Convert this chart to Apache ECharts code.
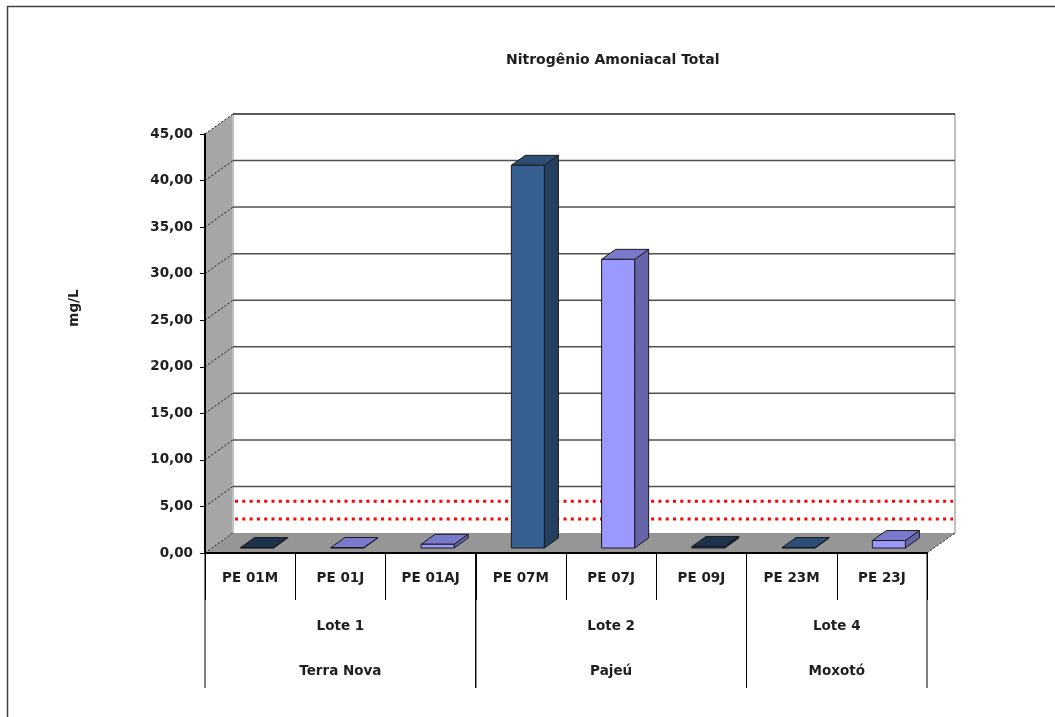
<!DOCTYPE html>
<html>
<head>
<meta charset="utf-8">
<script src="https://cdn.jsdelivr.net/npm/echarts@6/dist/echarts.min.js"></script>
<style>
  html, body { margin: 0; padding: 0; background: #ffffff; }
  #chart { width: 1055px; height: 717px; }
</style>
</head>
<body>
<div id="chart"></div>
<script>
// Sampling points and total ammoniacal nitrogen (mg/L)
const categories = ['PE 01M', 'PE 01J', 'PE 01AJ', 'PE 07M', 'PE 07J', 'PE 09J', 'PE 23M', 'PE 23J'];
const values = [0.05, 0.05, 0.4, 41.1, 31.0, 0.15, 0.05, 0.8];
const barColors = ['#243F60', '#9999FF', '#9999FF', '#376092', '#9999FF', '#243F60', '#376092', '#9999FF'];

// Grouping rows under the sample names
const lotes = ['Lote 1', 'Lote 2', 'Lote 4'];
const regions = ['Terra Nova', 'Pajeú', 'Moxotó'];
const groupStart = [0, 3, 6];
const groupEnd = [2, 5, 7];

// Value axis ticks and reference limits drawn on the back wall
const yTicks = [0, 5, 10, 15, 20, 25, 30, 35, 40, 45];
const limits = [3.4, 1.5];

const Y_MAX = 45;
const DX = 28, DY = -20;          // depth of the box (back wall offset)
const FONT_FAMILY = '"DejaVu Sans", sans-serif';
const FONT_SIZE = 13.5;
const FONT = 'bold ' + FONT_SIZE + 'px ' + FONT_FAMILY;
const TEXT_COLOR = '#1e1e1e';

function shade(hex, k) {
  const n = parseInt(hex.slice(1), 16);
  const r = Math.round(((n >> 16) & 255) * k);
  const g = Math.round(((n >> 8) & 255) * k);
  const b = Math.round((n & 255) * k);
  return 'rgb(' + r + ',' + g + ',' + b + ')';
}

function boxEdges(api) {
  const bw = api.size([1, 0])[0];
  const x0 = api.coord([0, 0])[0] - bw / 2;
  const x1 = api.coord([categories.length - 1, 0])[0] + bw / 2;
  return { bw, x0, x1 };
}

// Side wall, floor, back-wall grid and reference lines
function renderWalls(params, api) {
  const { x0, x1 } = boxEdges(api);
  const y = v => api.coord([0, v])[1];
  const yTop = y(Y_MAX), yBase = y(0);
  const children = [];
  children.push({
    type: 'polygon',
    shape: { points: [[x0, yTop], [x0 + DX, yTop + DY], [x0 + DX, yBase + DY], [x0, yBase]] },
    style: { fill: '#a6a6a6' }
  });
  children.push({
    type: 'polygon',
    shape: { points: [[x0, yBase], [x0 + DX, yBase + DY], [x1 + DX, yBase + DY], [x1, yBase]] },
    style: { fill: '#969696' }
  });
  // back wall vertical edges
  [x0 + DX, x1 + DX].forEach(x => {
    children.push({
      type: 'line',
      shape: { x1: x, y1: yTop + DY, x2: x, y2: yBase + DY },
      style: { stroke: '#c0c0c0', lineWidth: 2 }
    });
  });
  // gridlines on the back wall + diagonals across the side wall
  yTicks.forEach(v => {
    const yy = y(v);
    if (v > 0) {
      children.push({
        type: 'line',
        shape: { x1: x0 + DX, y1: yy + DY, x2: x1 + DX, y2: yy + DY },
        style: { stroke: v === Y_MAX ? '#222222' : '#505050', lineWidth: 1.5 }
      });
    }
    children.push({
      type: 'line',
      shape: { x1: x0, y1: yy, x2: x0 + DX, y2: yy + DY },
      style: { stroke: '#111111', lineWidth: 1, lineDash: [2, 2] }
    });
  });
  // right edge of the floor
  children.push({
    type: 'line',
    shape: { x1: x1, y1: yBase, x2: x1 + DX, y2: yBase + DY },
    style: { stroke: '#111111', lineWidth: 1, lineDash: [2, 2] }
  });
  // reference limits (red dotted)
  limits.forEach(v => {
    const yy = y(v) + DY;
    children.push({
      type: 'line',
      shape: { x1: x0 + DX + 2, y1: yy, x2: x1 + DX - 2, y2: yy },
      style: { stroke: '#ff0000', lineWidth: 3, lineDash: [3, 4.3] }
    });
  });
  return { type: 'group', children };
}

// Prism bars standing in the middle of the box depth
function renderBar(params, api) {
  const i = api.value(0);
  const v = api.value(1);
  const bw = api.size([1, 0])[0];
  const w = bw * 0.366;
  const top = api.coord([i, v]);
  const base = api.coord([i, 0]);
  const fx = DX * 0.25, fy = DY * 0.25;      // front face offset
  const ddx = DX * 0.5, ddy = DY * 0.5;      // bar depth
  const L = top[0] - w / 2 + fx, R = L + w;
  const T = top[1] + fy, B = base[1] + fy;
  const c = barColors[params.dataIndex];
  const edge = { stroke: '#1a1a1a', lineWidth: 1, lineJoin: 'round' };
  return {
    type: 'group',
    children: [
      { type: 'polygon', shape: { points: [[R, T], [R + ddx, T + ddy], [R + ddx, B + ddy], [R, B]] },
        style: Object.assign({ fill: shade(c, 0.66) }, edge) },
      { type: 'polygon', shape: { points: [[L, T], [L + ddx, T + ddy], [R + ddx, T + ddy], [R, T]] },
        style: Object.assign({ fill: shade(c, 0.8) }, edge) },
      { type: 'rect', shape: { x: L, y: T, width: w, height: Math.max(B - T, 0.5) },
        style: Object.assign({ fill: c }, edge) }
    ]
  };
}

// Lote / region rows beneath the sample names
function renderGroup(params, api) {
  const g = params.dataIndex;
  const bw = api.size([1, 0])[0];
  const xl = api.coord([groupStart[g], 0])[0] - bw / 2;
  const xr = api.coord([groupEnd[g], 0])[0] + bw / 2;
  const yBase = api.coord([0, 0])[1];
  const xc = (xl + xr) / 2;
  const lineStyle = { stroke: '#000000', lineWidth: 1 };
  return {
    type: 'group',
    children: [
      { type: 'line', shape: { x1: xl, y1: yBase, x2: xl, y2: yBase + 135 }, style: lineStyle },
      { type: 'line', shape: { x1: xr, y1: yBase, x2: xr, y2: yBase + 135 }, style: lineStyle },
      { type: 'text', style: { text: lotes[g], x: xc, y: yBase + 73, align: 'center', verticalAlign: 'middle', font: FONT, fill: TEXT_COLOR } },
      { type: 'text', style: { text: regions[g], x: xc, y: yBase + 118, align: 'center', verticalAlign: 'middle', font: FONT, fill: TEXT_COLOR } }
    ]
  };
}

const chart = echarts.init(document.getElementById('chart'), null, { renderer: 'canvas' });

chart.setOption({
  animation: false,
  backgroundColor: '#ffffff',
  title: {
    text: 'Nitrogênio Amoniacal Total',
    left: 501,
    top: 48,
    textStyle: { fontFamily: FONT_FAMILY, fontWeight: 'bold', fontSize: 14, color: TEXT_COLOR }
  },
  graphic: [
    { type: 'rect', shape: { x: 7.5, y: 6.5, width: 1100, height: 800 }, style: { fill: 'none', stroke: '#444444', lineWidth: 1.5 }, z: -10 },
    { type: 'text', x: 74, y: 308, rotation: Math.PI / 2,
      style: { text: 'mg/L', align: 'center', verticalAlign: 'middle', font: FONT, fill: TEXT_COLOR } }
  ],
  grid: { left: 205, top: 134, width: 722, height: 419 },
  xAxis: {
    type: 'category',
    data: categories,
    z: 5,
    axisLine: { lineStyle: { color: '#000000', width: 2 } },
    axisTick: { show: true, alignWithLabel: false, length: 47, lineStyle: { color: '#000000', width: 1 } },
    axisLabel: { margin: 18, fontFamily: FONT_FAMILY, fontWeight: 'bold', fontSize: FONT_SIZE, color: TEXT_COLOR },
    splitLine: { show: false }
  },
  yAxis: {
    type: 'value',
    min: 0, max: Y_MAX, interval: 5,
    z: 5,
    axisLine: { show: true, lineStyle: { color: '#000000', width: 2 } },
    axisTick: { show: true, length: 5, lineStyle: { color: '#000000' } },
    axisLabel: {
      margin: 12,
      formatter: v => v.toFixed(2).replace('.', ','),
      fontFamily: FONT_FAMILY, fontWeight: 'bold', fontSize: FONT_SIZE, color: TEXT_COLOR
    },
    splitLine: { show: false }
  },
  series: [
    { type: 'custom', name: 'walls', z: 1, clip: false, renderItem: renderWalls, data: [[0, 0]], silent: true },
    { type: 'custom', name: 'groups', z: 2, clip: false, renderItem: renderGroup, data: lotes.map((_, g) => [groupStart[g], 0]), silent: true },
    { type: 'custom', name: 'Nitrogênio Amoniacal Total', z: 3, clip: false, renderItem: renderBar,
      data: values.map((v, i) => [i, v]) }
  ]
});
</script>
</body>
</html>
